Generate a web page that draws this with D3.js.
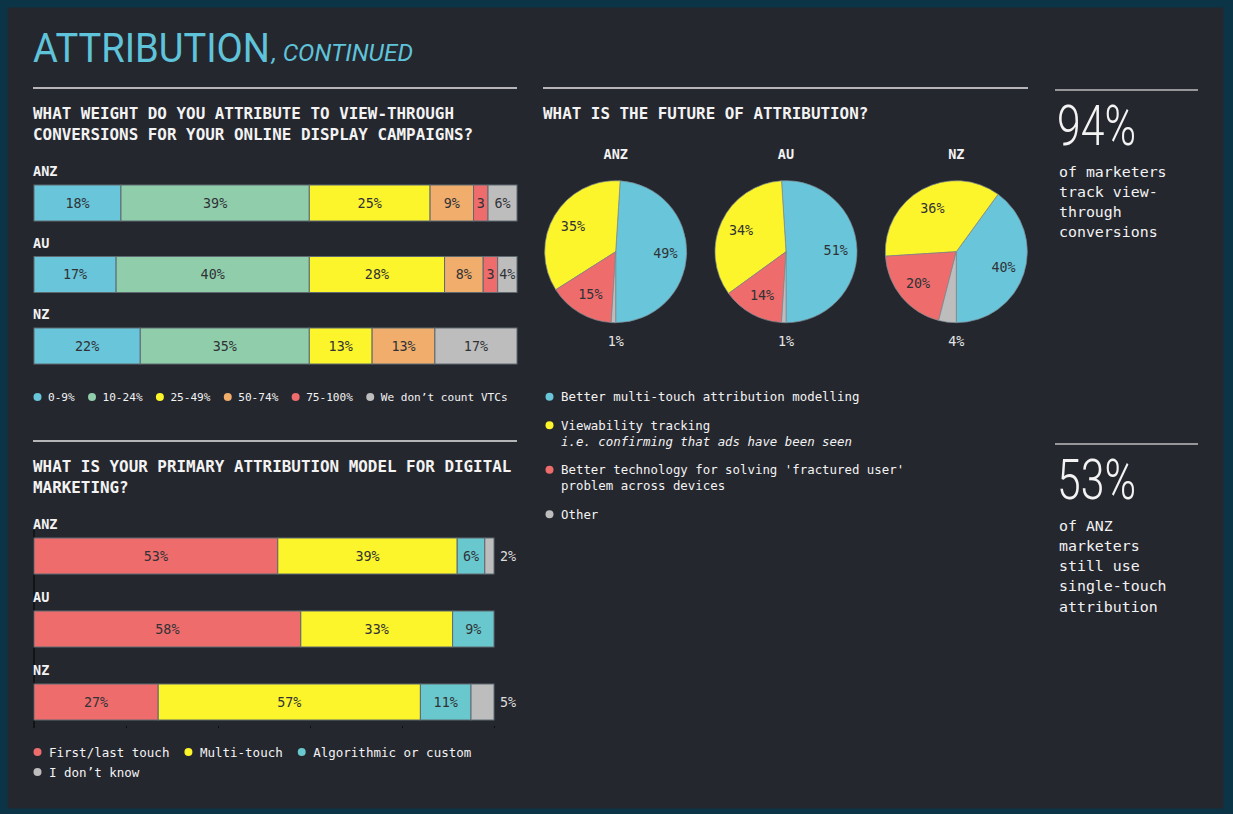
<!DOCTYPE html>
<html><head><meta charset="utf-8">
<script src="https://cdn.jsdelivr.net/npm/d3@7"></script>
<style>
html,body{margin:0;padding:0;background:#0c3447;}
svg{display:block}
</style></head><body>
<svg id="c" width="1233" height="814"></svg>
<script>
// ---------- DATA ----------
const regions = ["ANZ", "AU", "NZ"];

const vtcCategories = ["0-9%", "10-24%", "25-49%", "50-74%", "75-100%", "We don’t count VTCs"];
const vtcANZ = [18, 39, 25, 9, 3, 6];
const vtcAU  = [17, 40, 28, 8, 3, 4];
const vtcNZ  = [22, 35, 13, 13, 0, 17];

const modelCategories = ["First/last touch", "Multi-touch", "Algorithmic or custom", "I don’t know"];
const modelANZ = [53, 39, 6, 2];
const modelAU  = [58, 33, 9, 0];
const modelNZ  = [27, 57, 11, 5];

const futureCategories = ["Better multi-touch attribution modelling", "Viewability tracking",
  "Better technology for solving 'fractured user' problem across devices", "Other"];
const futureNotes = ["", "i.e. confirming that ads have been seen", "", ""];
const futureANZ = [49, 35, 15, 1];
const futureAU  = [51, 34, 14, 1];
const futureNZ  = [40, 36, 20, 4];

const statValues = ["94%", "53%"];
const statTexts = [["of marketers", "track view-", "through", "conversions"],
                   ["of ANZ", "marketers", "still use", "single-touch", "attribution"]];

// ---------- STYLE ----------
const C = {
  blue: "#68c5da", green: "#8fcdab", yellow: "#fdf52b", orange: "#f0ad6b",
  red: "#ee6c6c", gray: "#bdbdbd", teal: "#69c8cd"
};
const vtcColors = [C.blue, C.green, C.yellow, C.orange, C.red, C.gray];
const modelColors = [C.red, C.yellow, C.teal, C.gray];
const futureColors = [C.blue, C.yellow, C.red, C.gray];
const MONO = "'DejaVu Sans Mono', 'Liberation Mono', monospace";
const TXT = "#f3f3f3";
const DARK = "#303236";

const svg = d3.select("#c");
svg.append("rect").attr("width", 1233).attr("height", 814).attr("fill", "#0c3447");
svg.append("rect").attr("x", 7.5).attr("y", 7.5).attr("width", 1216).attr("height", 801).attr("fill", "#25272f");

// Title
const title = svg.append("g");
title.append("text").attr("x", 33).attr("y", 62).attr("fill", "#5fc3da")
  .attr("font-family", "Roboto").attr("font-size", 40).attr("textLength", 237)
  .attr("lengthAdjust", "spacingAndGlyphs").text("ATTRIBUTION");
title.append("text").attr("x", 272).attr("y", 61).attr("fill", "#5fc3da")
  .attr("font-family", "Roboto").attr("font-style", "italic").attr("font-size", 23)
  .attr("textLength", 141).attr("lengthAdjust", "spacingAndGlyphs").text(", CONTINUED");

function rule(x1, x2, y, col) {
  svg.append("line").attr("x1", x1).attr("x2", x2).attr("y1", y).attr("y2", y)
    .attr("stroke", col || "#e6e6e6").attr("stroke-width", 1.5);
}
function heading(x, y, lines) {
  lines.forEach((l, i) => svg.append("text").attr("x", x).attr("y", y + i * 21)
    .attr("fill", TXT).attr("font-family", MONO).attr("font-weight", "bold")
    .attr("font-size", 15.9).text(l));
}

rule(33, 517, 88);
rule(543, 1028, 88);
rule(33, 517, 441);
rule(1055, 1198, 90, "#bdbdbd");
rule(1055, 1198, 444, "#bdbdbd");

heading(33, 119, ["WHAT WEIGHT DO YOU ATTRIBUTE TO VIEW-THROUGH", "CONVERSIONS FOR YOUR ONLINE DISPLAY CAMPAIGNS?"]);
heading(543, 119, ["WHAT IS THE FUTURE OF ATTRIBUTION?"]);
heading(33, 472, ["WHAT IS YOUR PRIMARY ATTRIBUTION MODEL FOR DIGITAL", "MARKETING?"]);

// ---------- STACKED BARS ----------
function stackedBars(opts) {
  const { cats, colors, rows, x, y, barH, lastOutside } = opts;
  const table = regions.map((r, i) => {
    const o = { region: r };
    cats.forEach((c, j) => o[c] = rows[i][j]);
    return o;
  });
  const series = d3.stack().keys(cats)(table);
  const g = svg.append("g");
  g.selectAll("text.rl").data(regions).join("text")
    .attr("x", x(0) - 1).attr("y", d => y(d) - 9)
    .attr("fill", TXT).attr("font-family", MONO).attr("font-weight", "bold")
    .attr("font-size", 13.5).text(d => d);
  series.forEach((s, si) => {
    s.forEach((d, ri) => {
      const v = d[1] - d[0];
      if (v <= 0) return;
      const x0 = x(d[0]), x1 = x(d[1]), yy = y(regions[ri]);
      g.append("rect").attr("x", x0).attr("y", yy).attr("width", x1 - x0).attr("height", barH)
        .attr("fill", colors[si]).attr("stroke", "#5f6a70").attr("stroke-width", 1);
      const w = x1 - x0;
      const outside = lastOutside && si === cats.length - 1;
      g.append("text")
        .attr("x", outside ? x(100) + 6 : (x0 + x1) / 2)
        .attr("y", yy + barH / 2 + 4.8)
        .attr("text-anchor", outside ? "start" : "middle")
        .attr("fill", outside ? "#dcdcdc" : DARK)
        .attr("font-family", MONO).attr("font-size", 13.4)
        .text(w < 17 && !outside ? String(v) : v + "%");
    });
  });
}

function legend(opts) {
  const { cats, colors, x0, y0, xMax, fs, textOff, gap, lineH } = opts;
  const g = svg.append("g");
  let cx = x0, cy = y0;
  cats.forEach((c, i) => {
    const t = g.append("text").attr("font-family", MONO).attr("font-size", fs)
      .attr("fill", TXT).text(c);
    const w = t.node().getComputedTextLength();
    if (cx + textOff + w > xMax) { cx = x0; cy += lineH; }
    g.append("circle").attr("cx", cx).attr("cy", cy).attr("r", 4).attr("fill", colors[i]);
    t.attr("x", cx + textOff).attr("y", cy + fs * 0.36);
    cx += textOff + w + gap;
  });
}

// Top chart
const xTop = d3.scaleLinear().domain([0, 100]).range([34, 517]);
const yTop = d3.scalePoint().domain(regions).range([185, 328]);
stackedBars({ cats: vtcCategories, colors: vtcColors, rows: [vtcANZ, vtcAU, vtcNZ],
  x: xTop, y: yTop, barH: 36, lastOutside: false });
legend({ cats: vtcCategories, colors: vtcColors, x0: 37.5, y0: 397, xMax: 530, fs: 11.1,
  textOff: 10.5, gap: 17.3, lineH: 20 });

// Bottom chart
const xBot = d3.scaleLinear().domain([0, 100]).range([34, 494]);
const yBot = d3.scalePoint().domain(regions).range([538, 684]);
svg.append("line").attr("x1", xBot(0)).attr("x2", xBot(0)).attr("y1", 530).attr("y2", 728)
  .attr("stroke", "#0e0f12").attr("stroke-width", 1.5);
const ax = svg.append("g").attr("transform", "translate(0,726)")
  .call(d3.axisBottom(xBot).tickValues([20, 40, 60, 80, 100]).tickSize(2).tickFormat(""));
ax.select(".domain").remove();
ax.selectAll("line").attr("stroke", "#0e0f12");
stackedBars({ cats: modelCategories, colors: modelColors, rows: [modelANZ, modelAU, modelNZ],
  x: xBot, y: yBot, barH: 36, lastOutside: true });
legend({ cats: modelCategories, colors: modelColors, x0: 37.5, y0: 752, xMax: 500, fs: 12.5,
  textOff: 11.5, gap: 19, lineH: 20 });

// ---------- PIES ----------
const xPie = d3.scalePoint().domain(regions).range([615.7, 956.3]);
const pieCY = 251.7, R = 71;
const drawOrder = [0, 3, 2, 1]; // clockwise: blue, gray, red, yellow
const arc = d3.arc().innerRadius(0).outerRadius(R);
const labelArc = d3.arc().innerRadius(R * 0.7).outerRadius(R * 0.7);
[futureANZ, futureAU, futureNZ].forEach((vals, ri) => {
  const cx = xPie(regions[ri]);
  const start = Math.PI - vals[0] / 100 * 2 * Math.PI;
  const pie = d3.pie().value(d => d.v).sort((a, b) => drawOrder.indexOf(a.i) - drawOrder.indexOf(b.i))
    .startAngle(start).endAngle(start + 2 * Math.PI);
  const arcs = pie(vals.map((v, i) => ({ v, i })));
  const g = svg.append("g").attr("transform", `translate(${cx},${pieCY})`);
  g.selectAll("path").data(arcs).join("path").attr("d", arc)
    .attr("fill", d => futureColors[d.data.i]).attr("stroke", "#7e8a90").attr("stroke-width", 0.7);
  arcs.forEach(a => {
    const last = a.data.i === vals.length - 1;
    const p = labelArc.centroid(a);
    g.append("text")
      .attr("x", last ? 0 : p[0])
      .attr("y", last ? (R + 23) : p[1] + 4.8)
      .attr("text-anchor", "middle")
      .attr("fill", last ? "#e6e6e6" : DARK)
      .attr("font-family", MONO).attr("font-size", 13.4).text(a.data.v + "%");
  });
  svg.append("text").attr("x", cx).attr("y", 159).attr("text-anchor", "middle")
    .attr("fill", TXT).attr("font-family", MONO).attr("font-weight", "bold")
    .attr("font-size", 13.5).text(regions[ri]);
});

// Pie legend
(function () {
  const g = svg.append("g");
  let y = 396.7;
  const wrap = (s, n) => {
    const words = s.split(" "), lines = [];
    let cur = "";
    words.forEach(w => {
      if ((cur + " " + w).trim().length > n) { lines.push(cur); cur = w; }
      else cur = (cur + " " + w).trim();
    });
    lines.push(cur);
    return lines;
  };
  futureCategories.forEach((c, i) => {
    g.append("circle").attr("cx", 549.5).attr("cy", y).attr("r", 4).attr("fill", futureColors[i]);
    const lines = wrap(c, 47).map(t => ({ t, it: false }));
    if (futureNotes[i]) lines.push({ t: futureNotes[i], it: true });
    lines.forEach((l, k) => {
      g.append("text").attr("x", 561).attr("y", y + 4.5 + k * 16)
        .attr("fill", TXT).attr("font-family", MONO).attr("font-size", 12.4)
        .attr("font-style", l.it ? "italic" : "normal").text(l.t);
    });
    y += lines.length * 16 + 12.5;
  });
})();

// ---------- STATS ----------
[[145, 176.5], [499, 530.5]].forEach((pos, i) => {
  svg.append("text").attr("x", 1057).attr("y", pos[0]).attr("fill", TXT)
    .attr("font-family", "Roboto").attr("font-weight", 300).attr("font-size", 56)
    .attr("textLength", 79).attr("lengthAdjust", "spacingAndGlyphs").text(statValues[i]);
  statTexts[i].forEach((t, k) => svg.append("text").attr("x", 1059).attr("y", pos[1] + k * 20.3)
    .attr("fill", TXT).attr("font-family", MONO).attr("font-size", 14.9).text(t));
});
</script>
</body></html>
